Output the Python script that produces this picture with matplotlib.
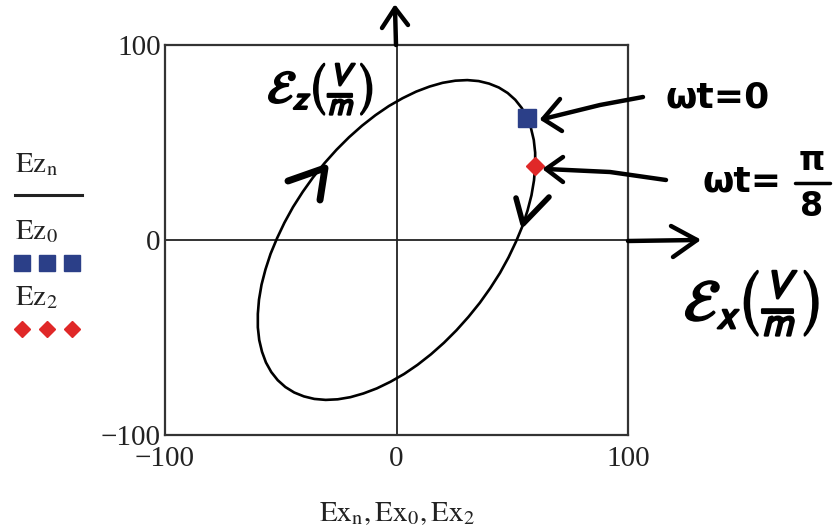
import matplotlib
matplotlib.use("Agg")
import matplotlib.pyplot as plt
from matplotlib.lines import Line2D
import matplotlib.patheffects as pe

# ---- data ----
ex_n = [56.4, 58.1, 59.3, 59.9, 59.9, 59.4, 58.3, 56.6, 54.4, 51.6, 48.4, 44.7,
        40.5, 36.0, 31.1, 25.9, 20.5, 14.9, 9.1, 3.3, -2.6, -8.5, -14.3, -19.9,
        -25.4, -30.6, -35.5, -40.0, -44.2, -48.0, -51.3, -54.1, -56.4, -58.1,
        -59.3, -59.9, -59.9, -59.4, -58.3, -56.6, -54.4, -51.6, -48.4, -44.7,
        -40.5, -36.0, -31.1, -25.9, -20.5, -14.9, -9.1, -3.3, 2.6, 8.5, 14.3,
        19.9, 25.4, 30.6, 35.5, 40.0, 44.2, 48.0, 51.3, 54.1, 56.4]
ez_n = [62.8, 57.3, 51.3, 44.8, 37.9, 30.6, 22.9, 15.1, 7.1, -0.9, -8.9, -16.9,
        -24.7, -32.2, -39.4, -46.3, -52.7, -58.6, -64.0, -68.7, -72.7, -76.1,
        -78.7, -80.6, -81.7, -82.0, -81.5, -80.2, -78.2, -75.4, -71.9, -67.7,
        -62.8, -57.3, -51.3, -44.8, -37.9, -30.6, -22.9, -15.1, -7.1, 0.9, 8.9,
        16.9, 24.7, 32.2, 39.4, 46.3, 52.7, 58.6, 64.0, 68.7, 72.7, 76.1, 78.7,
        80.6, 81.7, 82.0, 81.5, 80.2, 78.2, 75.4, 71.9, 67.7, 62.8]
ex_0 = [56.4]
ez_0 = [62.8]
ex_2 = [59.9]
ez_2 = [37.9]
x_ticks = [-100, 0, 100]
y_ticks = [-100, 0, 100]
x_ticklabels = ['\u2212100', '0', '100']
y_ticklabels = ['\u2212100', '0', '100']

plt.rcParams['font.family'] = ['Liberation Serif', 'DejaVu Sans']
plt.rcParams['mathtext.fontset'] = 'stix'

W, H = 834, 529
fig = plt.figure(figsize=(W / 100, H / 100), dpi=100)

ax = fig.add_axes([165 / W, 1 - 435 / H, (628 - 165) / W, (435 - 45) / H])
ax.plot(ex_n, ez_n, color='black', lw=1.9, zorder=3,
        solid_joinstyle='round', solid_capstyle='round')
ax.plot(ex_0, ez_0, 's', color='#2B3F88', ms=13.5, zorder=4)
ax.plot(ex_2, ez_2, 'D', color='#E02828', ms=9, zorder=4)
ax.axhline(0, color='#222222', lw=1.3, zorder=1)
ax.axvline(0, color='#222222', lw=1.3, zorder=1)
ax.set_xlim(-100, 100)
ax.set_ylim(-100, 100)
ax.set_xticks(x_ticks)
ax.set_yticks(y_ticks)
ax.set_xticklabels(x_ticklabels)
ax.set_yticklabels(y_ticklabels)
ax.tick_params(length=0, labelsize=21, pad=3, colors='#222222')
ax.tick_params(axis='x', pad=8)
for s in ax.spines.values():
    s.set_linewidth(1.6)
    s.set_color('#333333')

# x label
fig.text(397 / W, 1 - 514 / H,
         r'$\mathrm{Ex}_{\mathrm{n}},\mathrm{Ex}_{0},\mathrm{Ex}_{2}$',
         ha='center', va='center', fontsize=21, color='#222222')

# legend on the left
fig.text(15 / W, 1 - 165 / H, r'$\mathrm{Ez}_{\mathrm{n}}$', ha='left', va='center',
         fontsize=21, color='#222222')
fig.add_artist(Line2D([15 / W, 82 / W], [1 - 195 / H, 1 - 195 / H], color='#222222', lw=2.2))
fig.text(15 / W, 1 - 232 / H, r'$\mathrm{Ez}_{0}$', ha='left', va='center',
         fontsize=21, color='#222222')
for xx in (22, 47, 72):
    fig.add_artist(Line2D([xx / W], [1 - 263 / H], marker='s', color='#2B3F88', ms=11.5, ls='none'))
fig.text(15 / W, 1 - 298 / H, r'$\mathrm{Ez}_{2}$', ha='left', va='center',
         fontsize=21, color='#222222')
for xx in (22, 47, 72):
    fig.add_artist(Line2D([xx / W], [1 - 329 / H], marker='D', color='#E02828', ms=8.5, ls='none'))

# hand-drawn annotations
HW = dict(color='black', lw=3.2, solid_capstyle='round', solid_joinstyle='round')


def poly(pts, **kw):
    xs = [p[0] / W for p in pts]
    ys = [1 - p[1] / H for p in pts]
    fig.add_artist(Line2D(xs, ys, **{**HW, **kw}))


# vertical axis arrow
poly([(396, 45), (395, 8)])
poly([(382, 28), (395, 8), (408, 25)])
# horizontal axis arrow
poly([(628, 241), (697, 240)])
poly([(671, 226), (697, 240), (673, 257)])
# chevrons on the curve
poly([(288, 181), (325, 168), (320, 200)], lw=5)
poly([(516, 198), (523, 224), (549, 197)], lw=4)
# omega t = 0 arrow
poly([(643, 97), (600, 105), (543, 119)])
poly([(560, 99), (543, 119), (562, 131)])
# omega t = pi/8 arrow
poly([(666, 180), (610, 172), (546, 169)])
poly([(563, 157), (546, 169), (563, 182)])

hand = dict(color='black', fontweight='bold', family=['DejaVu Sans'], math_fontfamily='stixsans')
thick = [pe.withStroke(linewidth=1.6, foreground='black')]
fig.text(718 / W, 1 - 97 / H, '\u03c9t=0', ha='center', va='center', fontsize=26, **hand)
fig.text(742 / W, 1 - 182 / H, '\u03c9t=', ha='center', va='center', fontsize=26, **hand)
fig.text(812 / W, 1 - 160 / H, '\u03c0', ha='center', va='center', fontsize=24, **hand)
poly([(795, 183), (830, 183)], lw=2.5)
fig.text(812 / W, 1 - 207 / H, '8', ha='center', va='center', fontsize=24, **hand)
fig.text(752 / W, 1 - 303 / H, r'$\mathcal{E}_{x}\left(\frac{V}{m}\right)$',
         ha='center', va='center', fontsize=42, path_effects=thick, **hand)
fig.text(320 / W, 1 - 90 / H, r'$\mathcal{E}_{z}\left(\frac{V}{m}\right)$',
         ha='center', va='center', fontsize=33, path_effects=thick, **hand)

fig.savefig('out.png', dpi=100)
